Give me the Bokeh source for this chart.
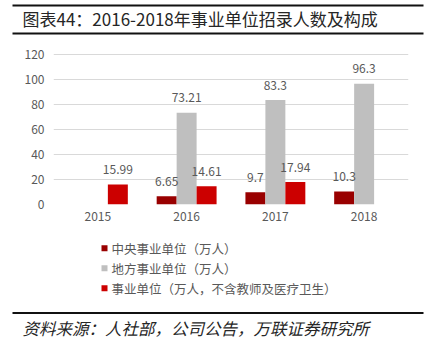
from bokeh.plotting import figure
from bokeh.models import ColumnDataSource, FactorRange, Range1d, FixedTicker, LabelSet
from bokeh.layouts import column, row
from bokeh.transform import dodge
from bokeh.core.properties import value
from bokeh.embed import file_html
from bokeh.resources import INLINE

years = ["2015", "2016", "2017", "2018"]
central = [None, 6.65, 9.7, 10.3]
local = [None, 73.21, 83.3, 96.3]
public = [15.99, 14.61, 17.94, None]
series_names = ["中央事业单位（万人）", "地方事业单位（万人）", "事业单位（万人，不含教师及医疗卫生）"]
y_ticks = [0, 20, 40, 60, 80, 100, 120]
title_text = "图表44：2016-2018年事业单位招录人数及构成"
source_text = "资料来源：人社部，公司公告，万联证券研究所"

colors = ["#990000", "#BFBFBF", "#CC0000"]
offsets = [-0.225, 0.0, 0.225]
FONT = "Noto Sans CJK SC"
GRAY = "#595959"
W = 431


def blank(height, y0, y1):
    f = figure(width=W, height=height, x_range=Range1d(0, W), y_range=Range1d(y1, y0),
               x_axis_type=None, y_axis_type=None, output_backend="svg", toolbar_location=None,
               min_border=0)
    f.outline_line_color = None
    f.grid.grid_line_color = None
    f.border_fill_color = "white"
    f.background_fill_color = "white"
    return f


# ---- title band ----
top = blank(40, 0, 40)
top.segment(x0=[12, 12], x1=[423, 423], y0=[5, 33], y1=[5, 33], line_color="#111111", line_width=2)
top.text(x=[22], y=[18], text=[title_text], text_font=value(FONT), text_font_size="17px",
         text_color="#262626", text_baseline="middle")

# ---- chart ----
p = figure(width=W, height=195, x_range=FactorRange(*years), y_range=Range1d(0, 121.2),
           output_backend="svg", toolbar_location=None,
           min_border_left=53, min_border_right=23, min_border_top=12, min_border_bottom=31)
p.outline_line_color = None
p.background_fill_color = "white"
p.border_fill_color = "white"
p.xgrid.grid_line_color = None
p.ygrid.grid_line_color = "#D9D9D9"
p.ygrid.grid_line_width = 1
p.yaxis.ticker = FixedTicker(ticks=y_ticks)
p.ygrid.ticker = FixedTicker(ticks=y_ticks)
for ax in (p.xaxis[0], p.yaxis[0]):
    ax.axis_line_color = None
    ax.major_tick_line_color = None
    ax.minor_tick_line_color = None
    ax.major_tick_out = 0
    ax.major_tick_in = 0
    ax.major_label_text_font = FONT
    ax.major_label_text_font_size = "12px"
    ax.major_label_text_color = GRAY
p.yaxis.major_label_standoff = 9
p.xaxis.major_label_standoff = 7

for vals, col, off in zip([central, local, public], colors, offsets):
    xs = [y for y, v in zip(years, vals) if v is not None]
    vs = [v for v in vals if v is not None]
    src = ColumnDataSource(dict(x=xs, v=vs, lbl=[f"{v:g}" for v in vs]))
    p.vbar(x=dodge("x", off, range=p.x_range), top="v", width=0.225, source=src,
           fill_color=col, line_color=None)
    p.add_layout(LabelSet(x=dodge("x", off, range=p.x_range), y="v", text="lbl", source=src,
                          y_offset=15, text_align="center", text_baseline="middle",
                          text_font=value(FONT), text_font_size="12px", text_color=GRAY))

# ---- legend + source band ----
bot = blank(120, 235, 355)
leg_y = [247.7, 267.7, 287.7]
bot.scatter(x=[104] * 3, y=leg_y, marker="square", size=6, fill_color=colors, line_color=None)
bot.text(x=[111] * 3, y=leg_y, text=series_names, text_font=value(FONT), text_font_size="12.5px",
         text_color=GRAY, text_baseline="middle")
bot.segment(x0=[12], x1=[423], y0=[312.5], y1=[312.5], line_color="#111111", line_width=2)
bot.text(x=[22], y=[327], text=[source_text], text_font=value(FONT), text_font_size="16.5px",
         text_font_style="italic", text_color="#262626", text_baseline="middle")

layout = column(row(top), row(p), row(bot), spacing=0)
open("out.html", "w").write(file_html(layout, INLINE))
